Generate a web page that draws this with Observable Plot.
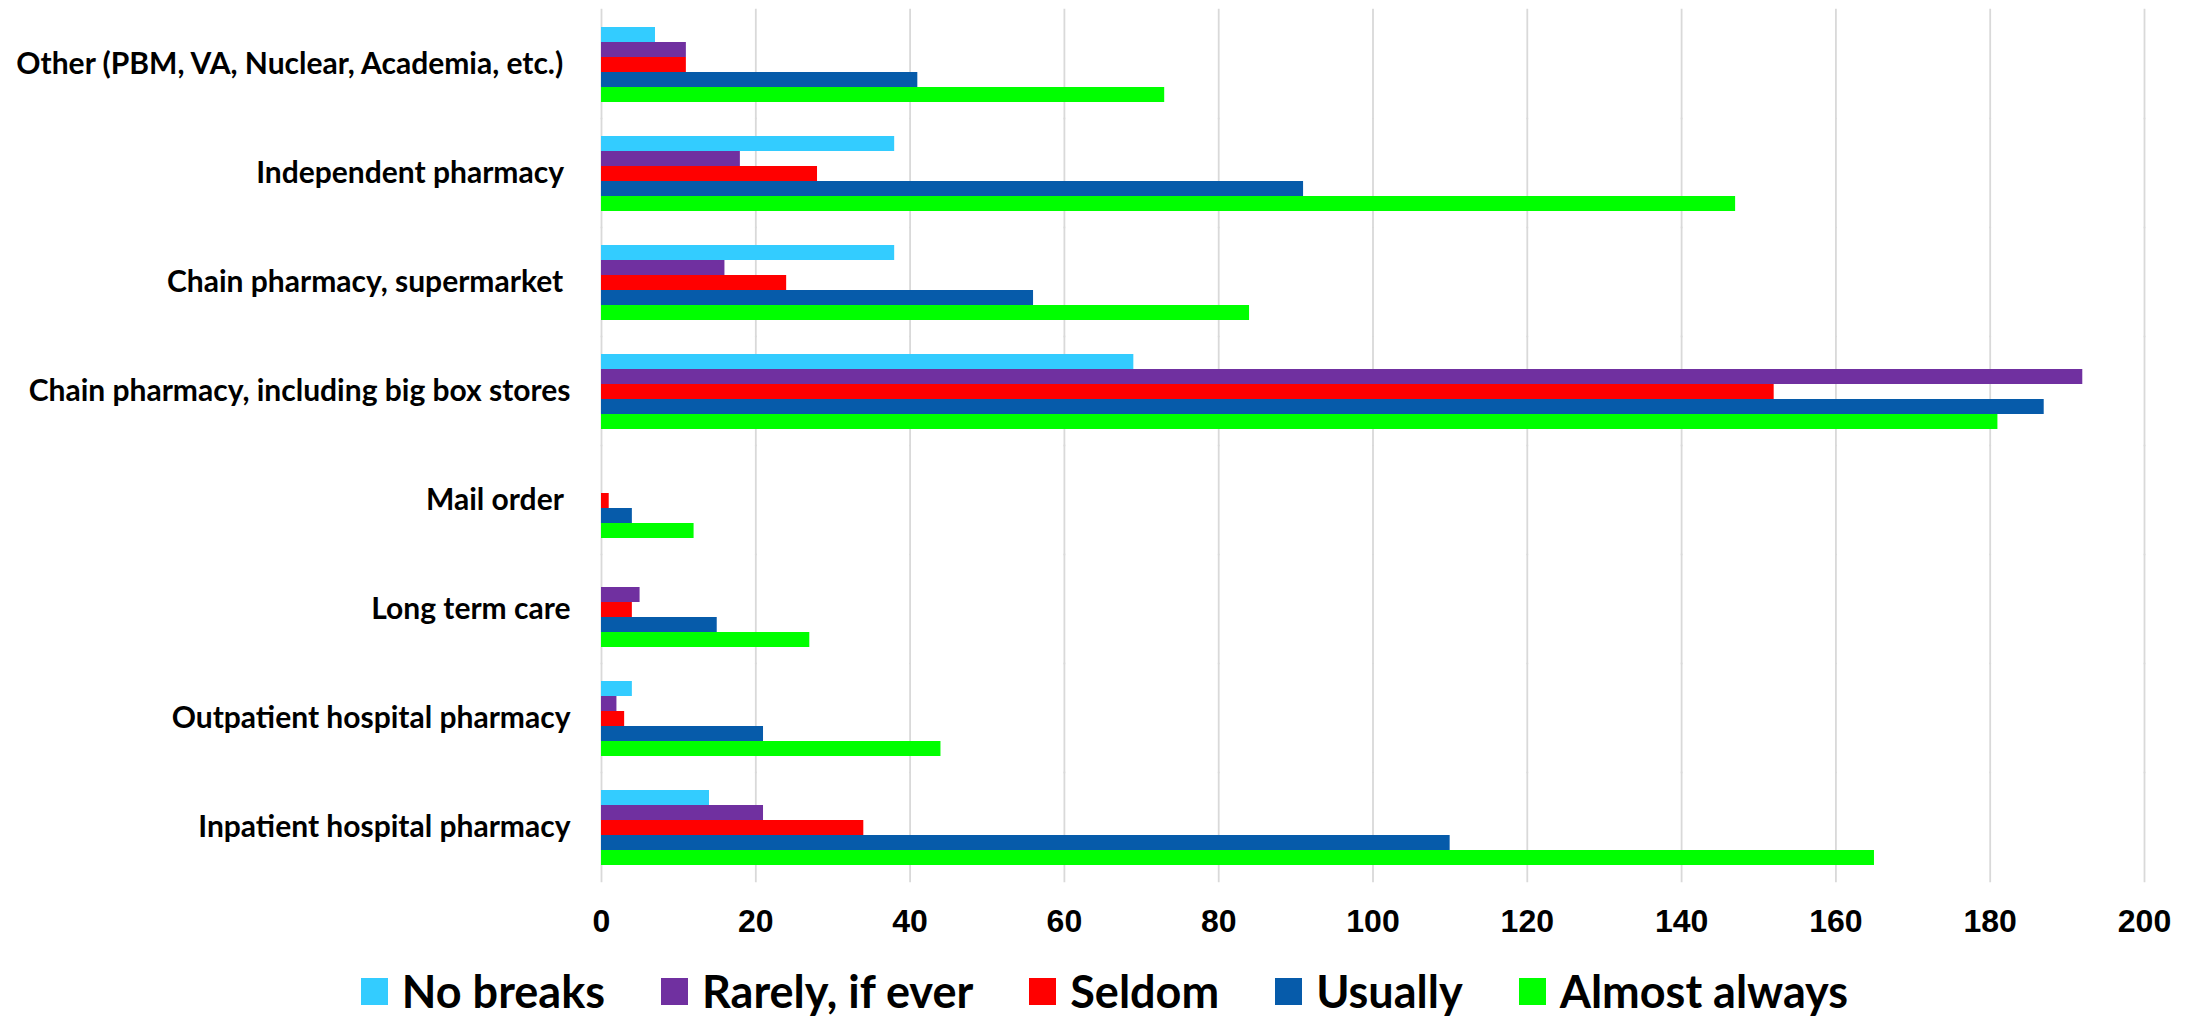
<!DOCTYPE html>
<html>
<head>
<meta charset="utf-8">
<script src="https://cdn.jsdelivr.net/npm/d3@7"></script>
<script src="https://cdn.jsdelivr.net/npm/@observablehq/plot@0.6"></script>
<style>
  html, body { margin: 0; padding: 0; background: #fff; }
  #chart svg [aria-label^="fy-axis"] text { font-family: Lato, "Open Sans", sans-serif; font-weight: 700; font-size: 30px; fill: #000; white-space: pre; }
  #chart svg [aria-label^="x-axis"] text { font-family: "Liberation Sans", Arial, sans-serif; font-weight: 700; font-size: 32px; fill: #000; }
  #legend { display: flex; justify-content: center; align-items: center; height: 58px; margin-top: 2px; padding-left: 22px;
            font-family: Lato, "Open Sans", sans-serif; font-weight: 700; font-size: 45px; line-height: 1; color: #000; }
  #legend .item { display: flex; align-items: center; margin: 0 28px; }
  #legend .sw { width: 27px; height: 27px; margin-right: 14px; }
</style>
</head>
<body>
<div id="chart"></div>
<div id="legend"></div>
<script>
const categories = [
  "Other (PBM, VA, Nuclear, Academia, etc.) ",
  "Independent pharmacy ",
  "Chain pharmacy, supermarket ",
  "Chain pharmacy, including big box stores",
  "Mail order ",
  "Long term care",
  "Outpatient hospital pharmacy",
  "Inpatient hospital pharmacy"
];
const series = ["No breaks", "Rarely, if ever", "Seldom", "Usually", "Almost always"];
const colors = ["#33CCFF", "#7030A0", "#FF0000", "#065BAA", "#00FF00"];
const noBreaks     = [7, 38, 38, 69, 0, 0, 4, 14];
const rarely       = [11, 18, 16, 192, 0, 5, 2, 21];
const seldom       = [11, 28, 24, 152, 1, 4, 3, 34];
const usually      = [41, 91, 56, 187, 4, 15, 21, 110];
const almostAlways = [73, 147, 84, 181, 12, 27, 44, 165];
const xTicks = [0, 20, 40, 60, 80, 100, 120, 140, 160, 180, 200];

const seriesValues = [noBreaks, rarely, seldom, usually, almostAlways];
const table = [];
categories.forEach((c, i) => {
  series.forEach((s, j) => {
    table.push({category: c, series: s, value: seriesValues[j][i]});
  });
});

const pad = 0.306;
const W = 2187, H = 960, mt = 7, mb = H - 883;
const step = (H - mt - mb) / categories.length;
const half = step * pad / 2 + 0.5;

const chart = Plot.plot({
  width: W,
  height: H,
  marginTop: mt,
  marginBottom: mb,
  marginLeft: 601,
  marginRight: 43,
  style: {background: "#fff", fontFamily: "Lato, sans-serif"},
  facet: {data: table, y: "category"},
  fy: {domain: categories, axis: "left", label: null, tickSize: 0, tickPadding: 31, paddingInner: pad, paddingOuter: pad / 2},
  y: {domain: series, axis: null, padding: 0},
  x: {domain: [0, 200], ticks: xTicks.length - 1, tickSize: 0, tickPadding: 44, label: null, tickFormat: d => String(d)},
  color: {domain: series, range: colors},
  marks: [
    Plot.ruleX(xTicks, {x: d => d, stroke: "#d9d9d9", strokeWidth: 1.8, insetTop: -half, insetBottom: -half}),
    Plot.barX(table, {x: "value", y: "series", fill: "series", inset: 0})
  ]
});
document.getElementById("chart").appendChild(chart);

const legend = document.getElementById("legend");
series.forEach((s, j) => {
  const item = document.createElement("div");
  item.className = "item";
  const sw = document.createElement("div");
  sw.className = "sw";
  sw.style.background = colors[j];
  const t = document.createElement("span");
  t.textContent = s;
  item.appendChild(sw);
  item.appendChild(t);
  legend.appendChild(item);
});
</script>
</body>
</html>
